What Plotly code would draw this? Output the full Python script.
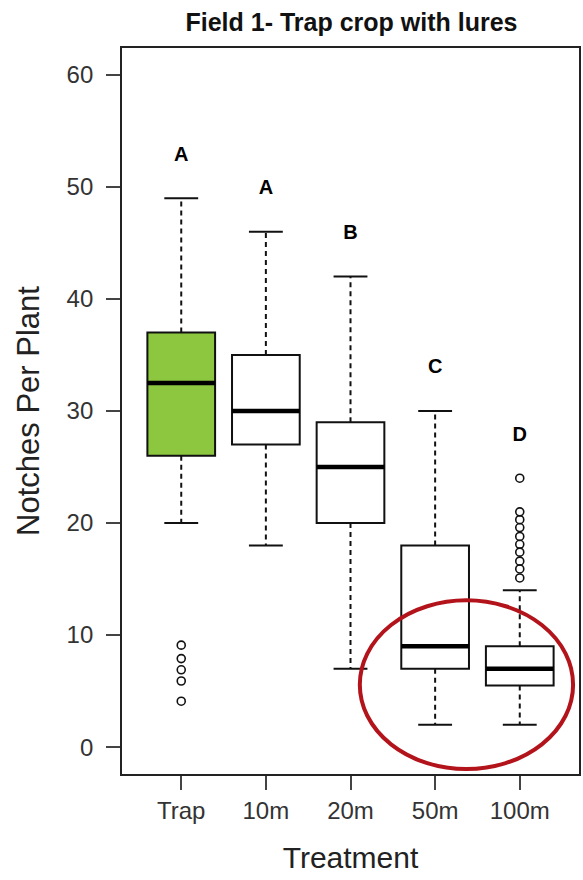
import plotly.graph_objects as go

categories = ["Trap", "10m", "20m", "50m", "100m"]
lower_whisker = [20, 18, 7, 2, 2]
q1 = [26, 27, 20, 7, 5.5]
median = [32.5, 30, 25, 9, 7]
q3 = [37, 35, 29, 18, 9]
upper_whisker = [49, 46, 42, 30, 14]
outliers = [
    [4.1, 5.9, 6.9, 7.9, 9.1],
    [],
    [],
    [],
    [15.1, 15.9, 16.6, 17.4, 18.1, 18.8, 19.6, 20.3, 21.0, 24.0],
]
letters = ["A", "A", "B", "C", "D"]
fill_colors = ["#8dc63f", "white", "white", "white", "white"]

FONT = "Liberation Sans, Arial, Helvetica, sans-serif"
BW = 0.8
CAP = 0.2

fig = go.Figure()
xs = list(range(len(categories)))

for i, c in enumerate(categories):
    fig.add_trace(go.Box(
        x=[i], q1=[q1[i]], median=[median[i]], q3=[q3[i]],
        lowerfence=[q1[i]], upperfence=[q3[i]],
        width=BW, fillcolor=fill_colors[i],
        line=dict(color="#111", width=2),
        boxpoints=False, whiskerwidth=0, showlegend=False, hoverinfo="skip",
    ))

# dashed whiskers
wx, wy = [], []
for i in xs:
    wx += [i, i, None, i, i, None]
    wy += [q3[i], upper_whisker[i], None, q1[i], lower_whisker[i], None]
fig.add_trace(go.Scatter(x=wx, y=wy, mode="lines",
                         line=dict(color="#111", width=2, dash="5px,4px"),
                         showlegend=False, hoverinfo="skip"))

# caps
cx, cy = [], []
for i in xs:
    cx += [i - CAP, i + CAP, None, i - CAP, i + CAP, None]
    cy += [upper_whisker[i], upper_whisker[i], None, lower_whisker[i], lower_whisker[i], None]
fig.add_trace(go.Scatter(x=cx, y=cy, mode="lines",
                         line=dict(color="#111", width=2),
                         showlegend=False, hoverinfo="skip"))

# medians (thick)
mx, my = [], []
for i in xs:
    mx += [i - BW / 2, i + BW / 2, None]
    my += [median[i], median[i], None]
fig.add_trace(go.Scatter(x=mx, y=my, mode="lines",
                         line=dict(color="black", width=4.5),
                         showlegend=False, hoverinfo="skip"))

# outliers
ox, oy = [], []
for i in xs:
    for v in outliers[i]:
        ox.append(i)
        oy.append(v)
fig.add_trace(go.Scatter(x=ox, y=oy, mode="markers",
                         marker=dict(symbol="circle-open", size=8, color="#111",
                                     line=dict(width=1.6)),
                         showlegend=False, hoverinfo="skip"))

# significance letters
top_vals = [max([upper_whisker[i]] + outliers[i]) for i in xs]
fig.add_trace(go.Scatter(x=xs, y=[t + 3.8 for t in top_vals], mode="text",
                         text=letters,
                         textfont=dict(family=FONT, size=20, color="black", weight="bold"),
                         showlegend=False, hoverinfo="skip"))

# red ellipse highlight
fig.add_shape(type="circle", xref="x", yref="y",
              x0=2.11, x1=4.63, y0=-1.96, y1=13.1,
              line=dict(color="#b3141b", width=4))

fig.update_layout(
    width=583, height=880,
    margin=dict(l=122, r=2, t=48, b=106),
    paper_bgcolor="white", plot_bgcolor="white",
    title=dict(text="<b>Field 1- Trap crop with lures</b>",
               x=(122 + 581) / 2 / 583, xanchor="center",
               y=1 - 22 / 880, yanchor="middle", yref="container",
               font=dict(family=FONT, size=25, color="#111")),
    font=dict(family=FONT, color="#333"),
)
fig.update_xaxes(
    range=[-0.7, 4.7], tickvals=xs, ticktext=categories,
    ticks="outside", ticklen=14, tickwidth=1.5, tickcolor="#444",
    showline=True, linecolor="#222", linewidth=1.8, mirror=True,
    showgrid=False, zeroline=False,
    tickfont=dict(family=FONT, size=24, color="#333"),
    title=dict(text="Treatment", font=dict(family=FONT, size=30, color="#222"), standoff=24),
)
fig.update_yaxes(
    range=[-2.4, 62.4], tickvals=[0, 10, 20, 30, 40, 50, 60],
    ticks="outside", ticklen=14, tickwidth=1.5, tickcolor="#444",
    showline=True, linecolor="#222", linewidth=1.8, mirror=True,
    showgrid=False, zeroline=False,
    tickfont=dict(family=FONT, size=24, color="#333"),
    ticklabelstandoff=8,
    title=dict(text="Notches Per Plant", font=dict(family=FONT, size=31, color="#222"), standoff=18),
)

fig.write_html("out.html")
